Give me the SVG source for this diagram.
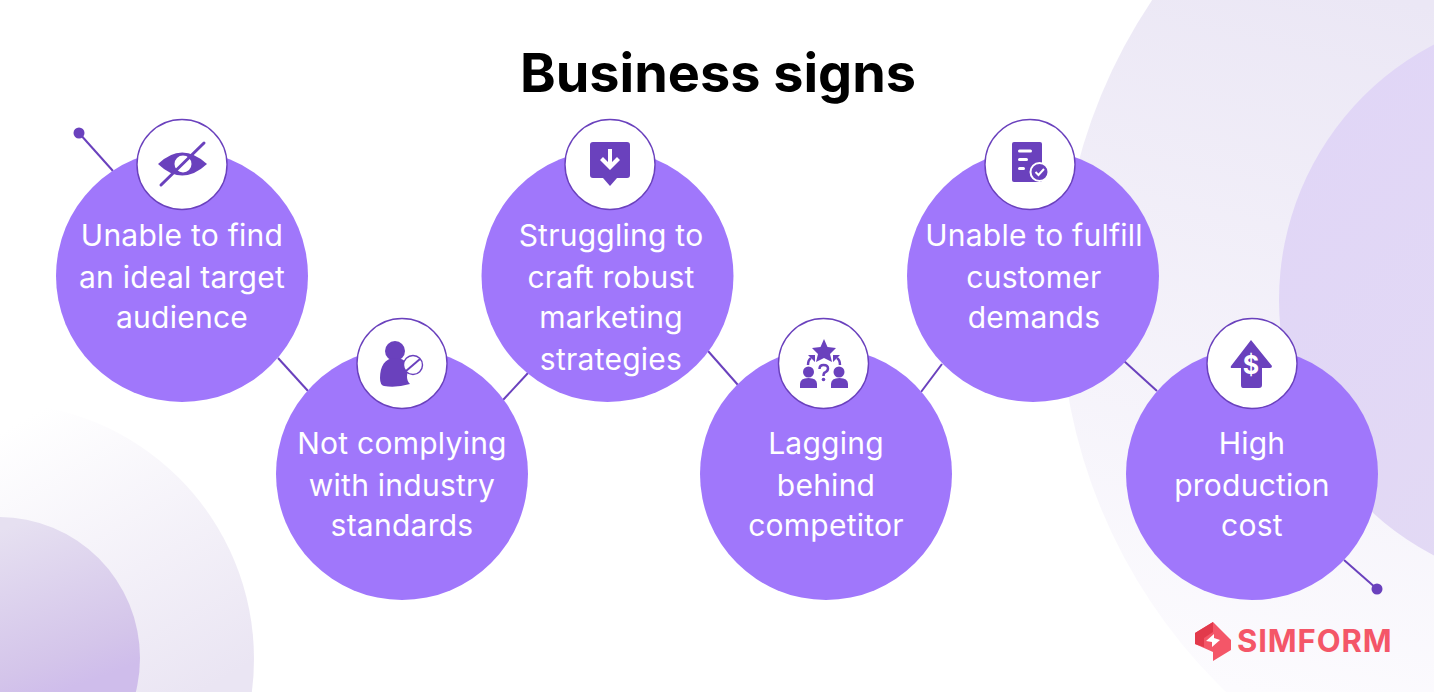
<svg xmlns="http://www.w3.org/2000/svg" width="1434" height="692" viewBox="0 0 1434 692">
<defs>
<linearGradient id="gA" gradientUnits="userSpaceOnUse" x1="1400" y1="0" x2="1250" y2="692"><stop offset="0" stop-color="#ebe7f5"/><stop offset="1" stop-color="#fcfbfe"/></linearGradient>
<linearGradient id="gB" x1="0" y1="0" x2="1" y2="1"><stop offset="0" stop-color="#e0d5f7"/><stop offset="1" stop-color="#e4dcf3"/></linearGradient>
<linearGradient id="gC" gradientUnits="userSpaceOnUse" x1="40" y1="410" x2="200" y2="692"><stop offset="0" stop-color="#ffffff"/><stop offset="1" stop-color="#eae5f3"/></linearGradient>
<linearGradient id="gD" gradientUnits="userSpaceOnUse" x1="0" y1="530" x2="60" y2="692"><stop offset="0" stop-color="#e6e0f1"/><stop offset="0.8" stop-color="#d4c5ea"/><stop offset="1" stop-color="#cfbdeb"/></linearGradient>
</defs>
<style>
.big{fill:#a077fb}
.ring{fill:#fff;stroke:#6a41bd;stroke-width:1.4}
.ic{fill:#6a41bd}
.icw{fill:#fff}
.conn{stroke:#6a41bd;stroke-width:2;fill:none}
.dot{fill:#6a41bd}
text{font-family:"Inter","Noto Sans",sans-serif}
.lbl{fill:#fff;font-size:30px;text-anchor:middle;letter-spacing:.25px}
.ttl{fill:#000;font-size:54px;font-weight:700;text-anchor:middle}
.logo{fill:#f45668;font-size:31px;font-weight:700;letter-spacing:.9px}
</style>
<rect width="1434" height="692" fill="#fff"/>
<g id="background">
<circle cx="1601" cy="302" r="541" fill="url(#gA)"/>
<circle cx="1567" cy="300" r="288" fill="url(#gB)"/>
<circle cx="-2" cy="659" r="256" fill="url(#gC)"/>
<circle cx="-1" cy="658" r="141" fill="url(#gD)"/>
</g>
<text class="ttl" x="718" y="92">Business signs</text>
<g id="connectors">
<line class="conn" x1="79" y1="133" x2="113" y2="171"/>
<circle class="dot" cx="79" cy="133" r="5.5"/>
<line class="conn" x1="278" y1="358" x2="308" y2="391"/>
<line class="conn" x1="503" y1="400" x2="528" y2="373"/>
<line class="conn" x1="708" y1="351" x2="738" y2="385"/>
<line class="conn" x1="921" y1="392" x2="942" y2="364"/>
<line class="conn" x1="1124" y1="361" x2="1157" y2="391"/>
<line class="conn" x1="1344" y1="560" x2="1377" y2="589"/>
<circle class="dot" cx="1377" cy="589" r="5.5"/>
</g>
<g id="node-1">
<circle class="big" cx="182" cy="276" r="126"/>
<circle class="ring" cx="182" cy="164.500" r="45"/>
<path class="ic" d="M158 164Q182 141 207 164Q182 187 158 164Z"/>
<circle class="icw" cx="183" cy="164" r="8.500"/>
<line x1="161" y1="185" x2="204" y2="143" stroke="#6a41bd" stroke-width="3" stroke-linecap="round"/>
<text class="lbl"><tspan x="182" y="246">Unable to find</tspan><tspan x="182" y="288">an ideal target</tspan><tspan x="182" y="328">audience</tspan></text>
</g>
<g id="node-2">
<circle class="big" cx="402" cy="474" r="126"/>
<circle class="ring" cx="402" cy="363.500" r="45"/>
<circle class="ic" cx="395" cy="351" r="10"/>
<path class="ic" d="M380 378C380 366 385 358 395 358C403 358 407 362 410 367C406 374 406 380 410 384Q396 388 384 386Q380 385 380 378Z"/>
<circle cx="413" cy="365" r="9.500" fill="#fff" stroke="#6a41bd" stroke-width="1.400"/>
<line x1="406" y1="371" x2="420" y2="359" stroke="#6a41bd" stroke-width="2"/>
<text class="lbl"><tspan x="402" y="454">Not complying</tspan><tspan x="402" y="496">with industry</tspan><tspan x="402" y="536">standards</tspan></text>
</g>
<g id="node-3">
<circle class="big" cx="607.500" cy="276" r="126"/>
<circle class="ring" cx="610" cy="164.500" r="45"/>
<path class="ic" d="M593 142H627Q630 142 630 145V175Q630 178 627 178H617L610 186L603 178H593Q590 178 590 175V145Q590 142 593 142Z"/>
<path class="icw" d="M608 149H612V162L617 157L620 160L610 170L600 160L603 157L608 162Z"/>
<text class="lbl"><tspan x="611" y="246">Struggling to</tspan><tspan x="611" y="288">craft robust</tspan><tspan x="611" y="328">marketing</tspan><tspan x="611" y="370">strategies</tspan></text>
</g>
<g id="node-4">
<circle class="big" cx="826" cy="474" r="126"/>
<circle class="ring" cx="823.500" cy="363.500" r="45"/>
<path class="ic" d="M824 339L827.500 347L836 348L830 354L832 362L824 358L816 362L818 354L812 348L820.500 347Z"/>
<path d="M808 365Q808 360 811 358M840 365Q840 360 837 358" fill="none" stroke="#6a41bd" stroke-width="2.500"/>
<path class="ic" d="M808 355H815V362ZM840 355H833V362Z"/>
<circle class="ic" cx="808.500" cy="372" r="5.500"/><path class="ic" d="M800 388V384Q800 378 808.500 378Q817 378 817 384V388Z"/>
<circle class="ic" cx="839" cy="372" r="5.500"/><path class="ic" d="M831 388V384Q831 378 839.500 378Q848 378 848 384V388Z"/>
<path d="M819.500 369Q819.500 365 823.500 365Q828 365 828 368.500Q828 371 825 372.500Q823.500 373 823.500 376" fill="none" stroke="#6a41bd" stroke-width="2.500"/><circle class="ic" cx="823.500" cy="379.500" r="1.800"/>
<text class="lbl"><tspan x="826" y="454">Lagging</tspan><tspan x="826" y="496">behind</tspan><tspan x="826" y="536">competitor</tspan></text>
</g>
<g id="node-5">
<circle class="big" cx="1033" cy="276" r="126"/>
<circle class="ring" cx="1030" cy="164.500" r="45"/>
<rect class="ic" x="1012" y="142" width="30" height="40" rx="2"/>
<rect class="icw" x="1018" y="149.500" width="14" height="3" rx="1.500"/>
<rect class="icw" x="1018" y="158" width="10" height="3" rx="1.500"/>
<rect class="icw" x="1018" y="167" width="7" height="3" rx="1.500"/>
<circle cx="1039.500" cy="172" r="9" fill="#6a41bd" stroke="#fff" stroke-width="2"/>
<path d="M1035.500 172L1038.500 175L1044 169" fill="none" stroke="#fff" stroke-width="2"/>
<text class="lbl"><tspan x="1034" y="246">Unable to fulfill</tspan><tspan x="1034" y="288">customer</tspan><tspan x="1034" y="328">demands</tspan></text>
</g>
<g id="node-6">
<circle class="big" cx="1252" cy="474" r="126"/>
<circle class="ring" cx="1252" cy="363.500" r="45"/>
<path class="ic" d="M1251 340L1272 366Q1272 368 1270 368H1262V385Q1262 388 1259 388H1243Q1241 388 1241 385V368H1232Q1230 368 1231 366Z"/>
<text x="1251" y="374" text-anchor="middle" fill="#fff" font-size="25" font-weight="700">$</text>
<text class="lbl"><tspan x="1252" y="454">High</tspan><tspan x="1252" y="496">production</tspan><tspan x="1252" y="536">cost</tspan></text>
</g>
<g id="logo">
<path fill="#f45668" d="M1213 622L1231 640V650L1213 661V652L1195 644V633Z"/>
<path fill="#e2394b" d="M1213 622V632L1204 638L1195 633ZM1195 633L1204 638V647L1195 644Z"/>
<path fill="#fff" d="M1206 641L1214 634V638L1220 640L1212 647V642Z"/>
<text class="logo" x="1237" y="652">SIMFORM</text>
</g>
</svg>
